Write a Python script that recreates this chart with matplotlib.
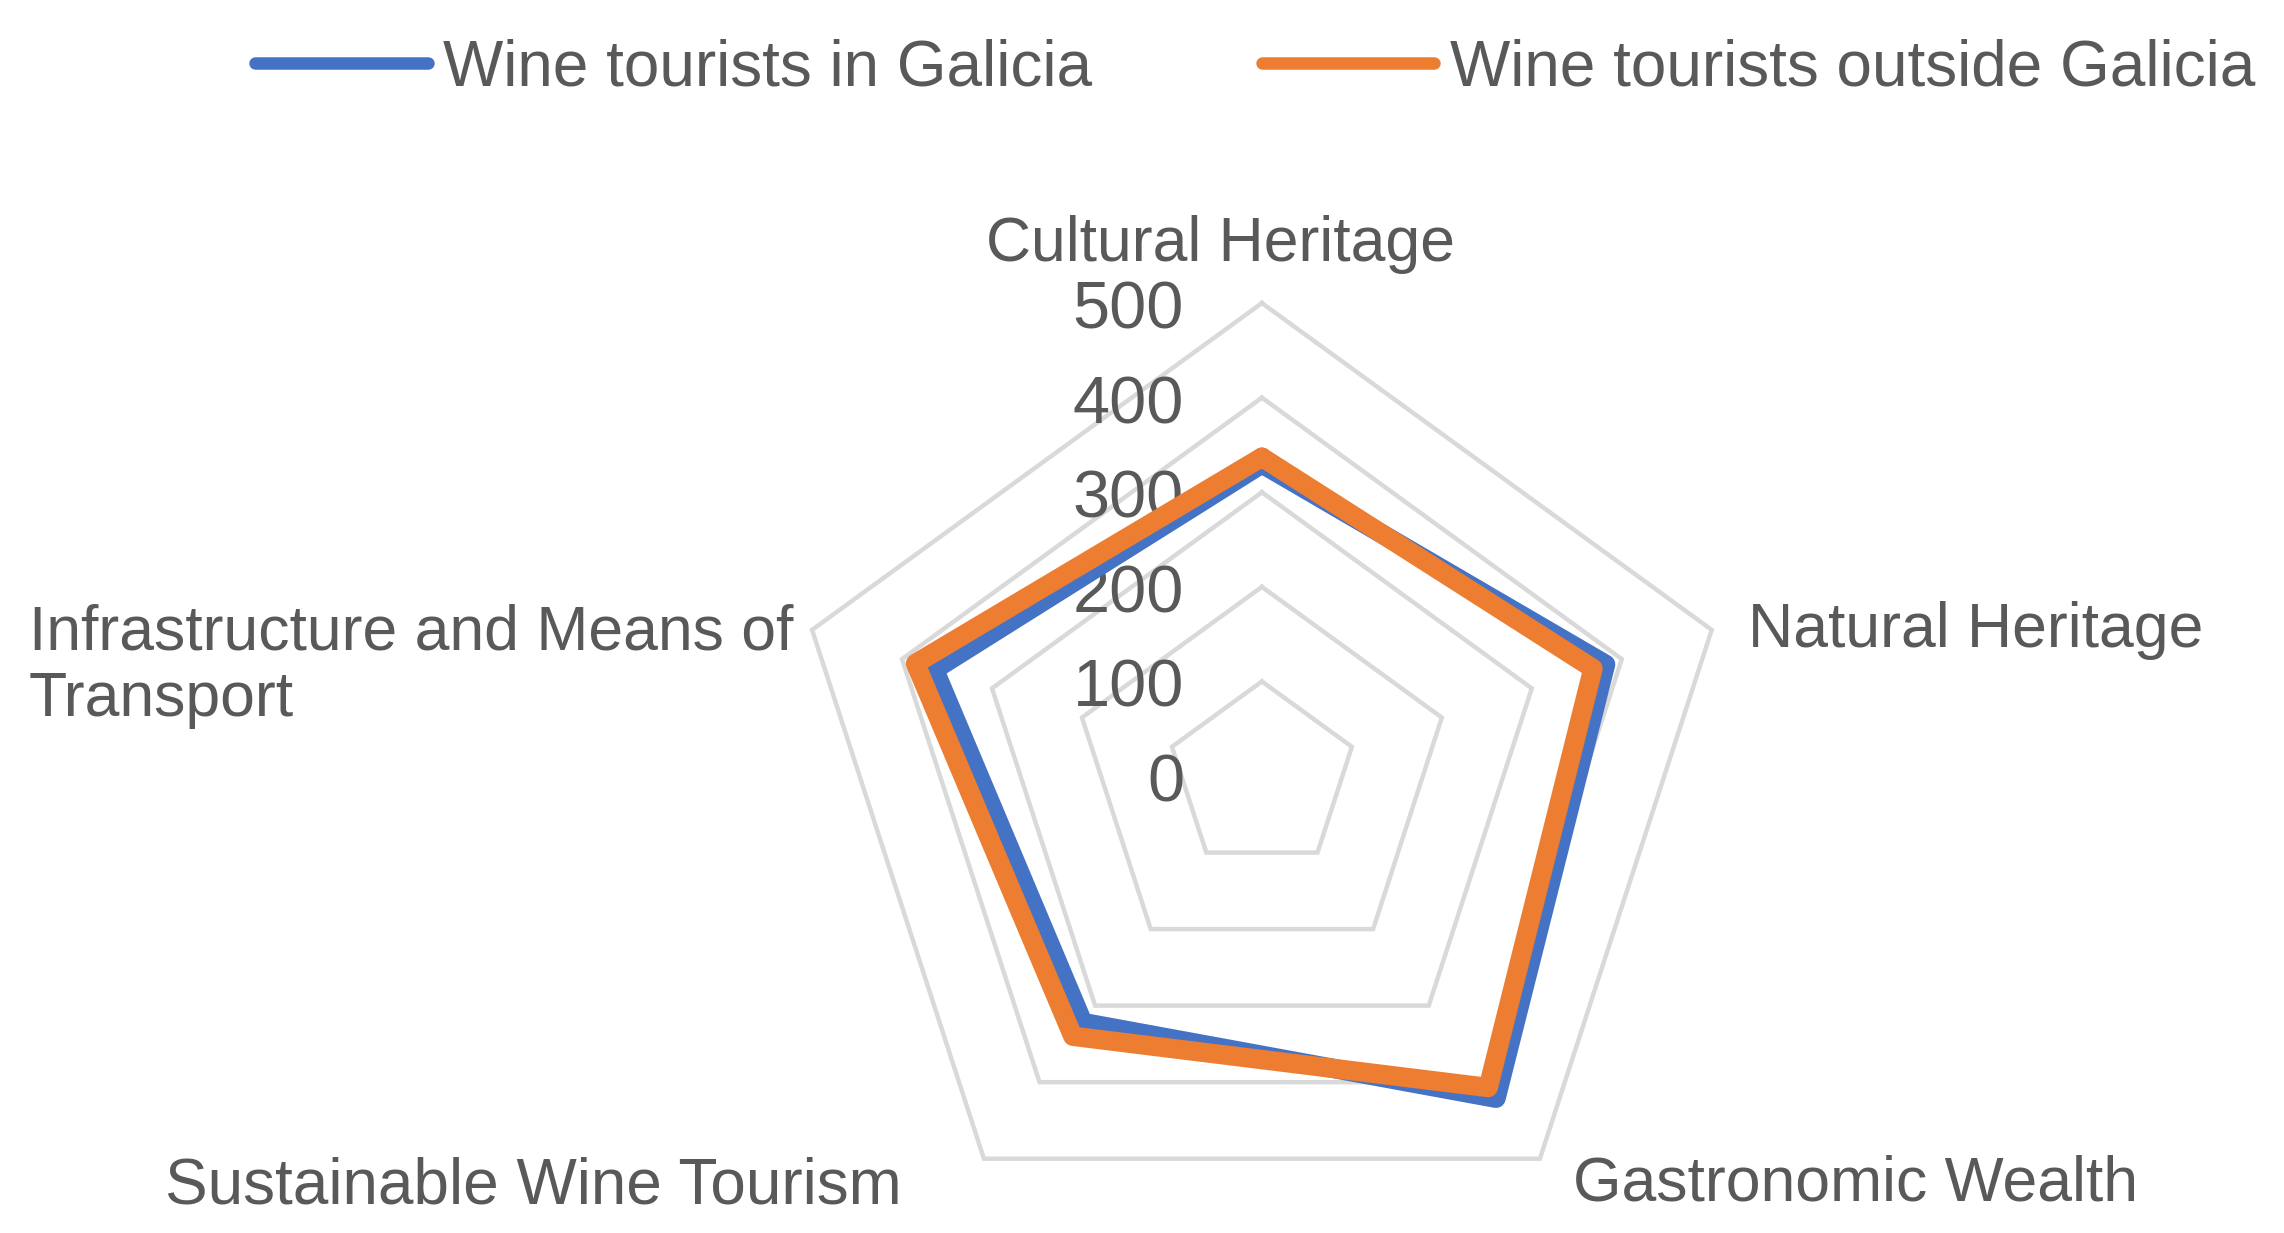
import numpy as np
import matplotlib
matplotlib.use("Agg")
import matplotlib.pyplot as plt

plt.rcParams["font.family"] = ["Liberation Sans", "DejaVu Sans"]

categories = ["Cultural Heritage", "Natural Heritage", "Gastronomic Wealth",
              "Sustainable Wine Tourism", "Infrastructure and Means of\nTransport"]
in_galicia = [330, 382, 421, 322, 364]
outside_galicia = [337, 368, 407, 340, 385]
ring_values = [100, 200, 300, 400, 500]
tick_labels = ["0", "100", "200", "300", "400", "500"]

W, H = 2284, 1233
grey_text = "#595959"
blue = "#4472C4"
orange = "#ED7D31"

fig = plt.figure(figsize=(W / 100, H / 100), dpi=100)
ax = fig.add_axes([0.3454, -0.0130, 0.4142, 0.7672], projection="polar")
ax.set_theta_offset(np.pi / 2)
ax.set_theta_direction(-1)
ax.set_ylim(0, 500)
ax.grid(False)
ax.spines["polar"].set_visible(False)
ax.set_xticks([])
ax.set_yticks([])
ax.patch.set_alpha(0)

n = len(categories)
angles = np.arange(n) * 2 * np.pi / n
closed = np.append(angles, angles[0])

# pentagon gridlines
for r in ring_values:
    ax.plot(closed, [r] * (n + 1), color="#D9D9D9", lw=3.2, clip_on=False, zorder=1,
            solid_joinstyle="miter", solid_capstyle="projecting")

# value labels on the vertical axis
for r, lab in zip([0] + ring_values, tick_labels):
    ax.annotate(lab, xy=(0, r), xytext=(-56, -6), textcoords="offset points",
                ha="right", va="center", fontsize=48, color=grey_text,
                annotation_clip=False)

l1, = ax.plot(closed, in_galicia + in_galicia[:1], color=blue, lw=14,
              solid_joinstyle="round", solid_capstyle="round", clip_on=False,
              zorder=3, label="Wine tourists in Galicia")
l2, = ax.plot(closed, outside_galicia + outside_galicia[:1], color=orange, lw=14,
              solid_joinstyle="round", solid_capstyle="round", clip_on=False,
              zorder=4, label="Wine tourists outside Galicia")

# category labels
def ftext(x, y, s, size=45, **kw):
    fig.text(x / W, 1 - y / H, s, fontsize=size, color=grey_text, **kw)

ftext(1220, 245, categories[0], ha="center", va="center")
ftext(1748, 630, categories[1], ha="left", va="center")
ftext(1573, 1184, categories[2], ha="left", va="center")
ftext(165, 1187, categories[3], size=46, ha="left", va="center")
ftext(29, 666, categories[4], ha="left", va="center", linespacing=1.17)

leg = fig.legend(handles=[l1, l2], loc="center left",
                 bbox_to_anchor=(255 / W, 1 - 68 / H), ncol=2, frameon=False,
                 fontsize=46, handlelength=2.7, handletextpad=0.25,
                 columnspacing=2.65, borderpad=0, borderaxespad=0)
for t in leg.get_texts():
    t.set_color(grey_text)
for h in leg.get_lines():
    h.set_linewidth(9)
    h.set_solid_capstyle("round")

fig.savefig("out.png", dpi=100)
